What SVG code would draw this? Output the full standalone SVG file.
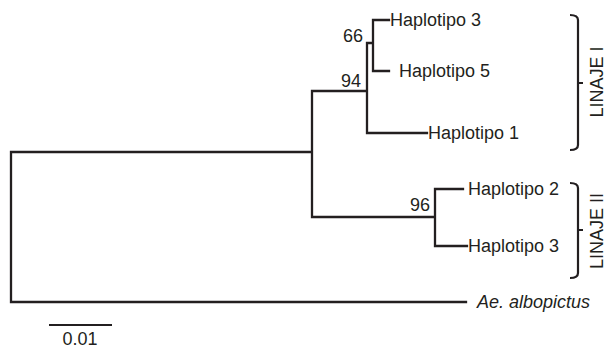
<svg xmlns="http://www.w3.org/2000/svg" width="608" height="348" viewBox="0 0 608 348">
<style>
.br{fill:none;stroke:#231f20;stroke-width:2.3;stroke-linecap:square}
.bk{fill:none;stroke:#231f20;stroke-width:2.2}
text{font-family:"Liberation Sans",Arial,sans-serif;font-size:18px;fill:#231f20}
.it{font-style:italic}
.bs{text-anchor:end}
</style>
<rect width="608" height="348" fill="#fff"/>
<g id="connectors">
<path class="br" d="M11,152 V302 M11,152 H312 M312,91 V217 M312,91 H367 M367,43 V133 M367,133 H427 M367,43 H373 M373,20 V71 M373,20 H389 M373,71 H389 M312,217 H435 M435,189 V246 M435,189 H463 M435,246 H467 M11,302 H466"/>
</g>
<g id="haplotipo3a"><text x="390" y="26">Haplotipo 3</text></g>
<g id="haplotipo5"><text x="399" y="77">Haplotipo 5</text></g>
<g id="haplotipo1"><text x="428" y="139">Haplotipo 1</text></g>
<g id="haplotipo2"><text x="468" y="195">Haplotipo 2</text></g>
<g id="haplotipo3b"><text x="468" y="252">Haplotipo 3</text></g>
<g id="albopictus"><text class="it" x="477" y="308">Ae. albopictus</text></g>
<g id="support"><text class="bs" x="363" y="42">66</text><text class="bs" x="361" y="87">94</text><text class="bs" x="430" y="211">96</text></g>
<g id="linaje1">
<path class="bk" d="M570,15 Q578,15 578,20 V145 Q578,150 570,150 M578,83 H583"/>
<text transform="translate(603,82) rotate(-90)" text-anchor="middle">LINAJE I</text>
</g>
<g id="linaje2">
<path class="bk" d="M570,183 Q578,183 578,188 V273 Q578,278 570,278 M578,230 H583"/>
<text transform="translate(603,231) rotate(-90)" text-anchor="middle">LINAJE II</text>
</g>
<g id="scale">
<path class="bk" d="M49,325 H112"/>
<text x="80" y="345" text-anchor="middle">0.01</text>
</g>
</svg>
